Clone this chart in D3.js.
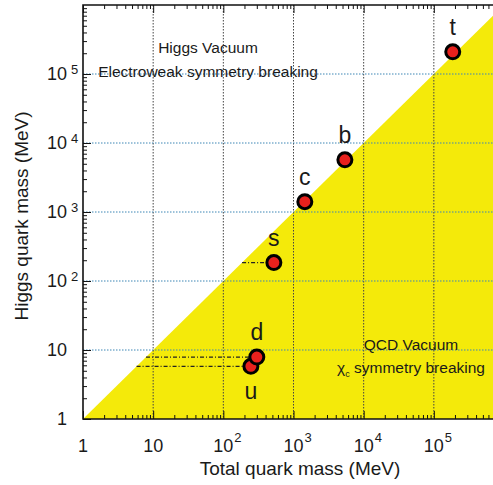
<!DOCTYPE html>
<html>
<head>
<meta charset="utf-8">
<script src="https://cdn.jsdelivr.net/npm/d3@7"></script>
<style>
  body { margin: 0; background: #fff; }
  text { font-family: "Liberation Sans", Arial, Helvetica, sans-serif; fill: #1a1a1a; }
</style>
</head>
<body>
<svg width="493" height="485"></svg>
<script>
// quark data (MeV)
var quarks = ["u", "d", "s", "c", "b", "t"];
var totalMass = [247, 300, 525, 1450, 5400, 186000];
var higgsMass = [5.8, 7.9, 185, 1410, 5700, 210000];

// guide lines from diagonal to light quarks
var guideQuarks = ["s", "d", "u"];

var decades = [0, 1, 2, 3, 4, 5];
var tickLabels = ["1", "10", "10", "10", "10", "10"];
var tickSups = ["", "", "2", "3", "4", "5"];

var svg = d3.select("svg");

var x = d3.scaleLog().domain([1, 1e6]).range([83, 504]),
    y = d3.scaleLog().domain([1, 1e6]).range([419, 5]);

var pLeft = 83, pTop = 5, pBottom = 419, pRight = 493;

svg.append("clipPath").attr("id", "clip")
  .append("rect").attr("x", pLeft).attr("y", pTop)
  .attr("width", pRight - pLeft).attr("height", pBottom - pTop);

var plot = svg.append("g").attr("clip-path", "url(#clip)");

// yellow region below the diagonal
plot.append("path")
  .attr("d", d3.line()([[x(1), y(1)], [x(1e6), y(1e6)], [x(1e6), y(1)]]) + "Z")
  .attr("fill", "#f4ea0a");

// grid
var gridVals = [10, 100, 1e3, 1e4, 1e5];
plot.selectAll(".vgrid").data(gridVals).enter().append("line")
  .attr("x1", function(d) { return x(d); })
  .attr("x2", function(d) { return x(d); })
  .attr("y1", pTop).attr("y2", pBottom)
  .attr("stroke", "#444").attr("stroke-width", 1)
  .attr("stroke-dasharray", "1.5,1.5");
plot.selectAll(".hgrid").data(gridVals).enter().append("line")
  .attr("y1", function(d) { return y(d); })
  .attr("y2", function(d) { return y(d); })
  .attr("x1", pLeft).attr("x2", pRight)
  .attr("stroke", "#3d86b5").attr("stroke-width", 1)
  .attr("stroke-dasharray", "1.5,1.5");

// axes, ticks inside
var minor = [];
decades.forEach(function(d) {
  for (var m = 2; m <= 9; m++) minor.push(m * Math.pow(10, d));
});
var major = decades.map(function(d) { return Math.pow(10, d); });

function noDomain(g) { g.select(".domain").remove(); g.selectAll(".tick line").attr("stroke", "#111"); }

svg.append("g").attr("transform", "translate(0," + pBottom + ")")
  .call(d3.axisBottom(x).tickValues(minor).tickSize(-4).tickFormat("")).call(noDomain);
svg.append("g").attr("transform", "translate(0," + pBottom + ")")
  .call(d3.axisBottom(x).tickValues(major).tickSize(-8).tickFormat("")).call(noDomain);
svg.append("g").attr("transform", "translate(0," + pTop + ")")
  .call(d3.axisTop(x).tickValues(minor).tickSize(-4).tickFormat("")).call(noDomain);
svg.append("g").attr("transform", "translate(0," + pTop + ")")
  .call(d3.axisTop(x).tickValues(major).tickSize(-8).tickFormat("")).call(noDomain);
svg.append("g").attr("transform", "translate(" + pLeft + ",0)")
  .call(d3.axisLeft(y).tickValues(minor).tickSize(-4).tickFormat("")).call(noDomain);
svg.append("g").attr("transform", "translate(" + pLeft + ",0)")
  .call(d3.axisLeft(y).tickValues(major).tickSize(-8).tickFormat("")).call(noDomain);

// frame
svg.append("path")
  .attr("d", "M" + pRight + "," + pTop + "H" + pLeft + "V" + pBottom + "H" + pRight)
  .attr("fill", "none").attr("stroke", "#111").attr("stroke-width", 1.6);

// tick labels
var xl = svg.selectAll(".xl").data(decades).enter().append("g")
  .attr("transform", function(d) { return "translate(" + x(Math.pow(10, d)) + ",452)"; });
xl.append("text").attr("text-anchor", "middle").attr("font-size", 18)
  .text(function(d, i) { return tickLabels[i]; });
xl.append("text").attr("x", 11).attr("y", -10).attr("font-size", 13)
  .text(function(d, i) { return tickSups[i]; });

var yl = svg.selectAll(".yl").data(decades).enter().append("g")
  .attr("transform", function(d) { return "translate(67," + (y(Math.pow(10, d)) + 6) + ")"; });
yl.append("text").attr("text-anchor", "end").attr("font-size", 18)
  .text(function(d, i) { return tickLabels[i]; });
yl.append("text").attr("x", 4).attr("y", -6).attr("font-size", 13)
  .text(function(d, i) { return tickSups[i]; });

// axis titles
svg.append("text").attr("x", 300).attr("y", 475).attr("text-anchor", "middle")
  .attr("font-size", 19).text("Total quark mass (MeV)");
svg.append("text").attr("transform", "translate(28,216) rotate(-90)")
  .attr("text-anchor", "middle").attr("font-size", 19).text("Higgs quark mass (MeV)");

// region annotations
svg.append("text").attr("x", 208).attr("y", 53).attr("text-anchor", "middle")
  .attr("font-size", 15.5).text("Higgs Vacuum");
svg.append("text").attr("x", 208).attr("y", 77).attr("text-anchor", "middle")
  .attr("font-size", 15.5).text("Electroweak symmetry breaking");
svg.append("text").attr("x", 411).attr("y", 350).attr("text-anchor", "middle")
  .attr("font-size", 15.5).text("QCD Vacuum");
var chi = svg.append("text").attr("x", 411).attr("y", 373).attr("text-anchor", "middle")
  .attr("font-size", 15.5);
chi.append("tspan").text("\u03c7");
chi.append("tspan").attr("font-size", 9).attr("dy", 4).text("c");
chi.append("tspan").attr("dy", -4).text(" symmetry breaking");

// dash-dot guides
var pts = quarks.map(function(q, i) { return { q: q, tx: totalMass[i], hy: higgsMass[i] }; });
svg.selectAll(".guide").data(pts.filter(function(p) { return guideQuarks.indexOf(p.q) >= 0; }))
  .enter().append("line")
  .attr("x1", function(p) { return x(p.hy); })
  .attr("x2", function(p) { return x(p.tx) - 6; })
  .attr("y1", function(p) { return y(p.hy); })
  .attr("y2", function(p) { return y(p.hy); })
  .attr("stroke", "#222").attr("stroke-width", 1.3)
  .attr("stroke-dasharray", "4,2,1,2");

// quark points
svg.selectAll(".pt").data(pts).enter().append("circle")
  .attr("cx", function(p) { return x(p.tx); })
  .attr("cy", function(p) { return y(p.hy); })
  .attr("r", 7)
  .attr("fill", "#e8211d").attr("stroke", "#000").attr("stroke-width", 3);

svg.selectAll(".ql").data(pts).enter().append("text")
  .attr("x", function(p) { return x(p.tx); })
  .attr("y", function(p) { return y(p.hy) + (p.q == "u" ? 33 : -17); })
  .attr("text-anchor", "middle").attr("font-size", 23)
  .text(function(p) { return p.q; });
</script>
</body>
</html>
